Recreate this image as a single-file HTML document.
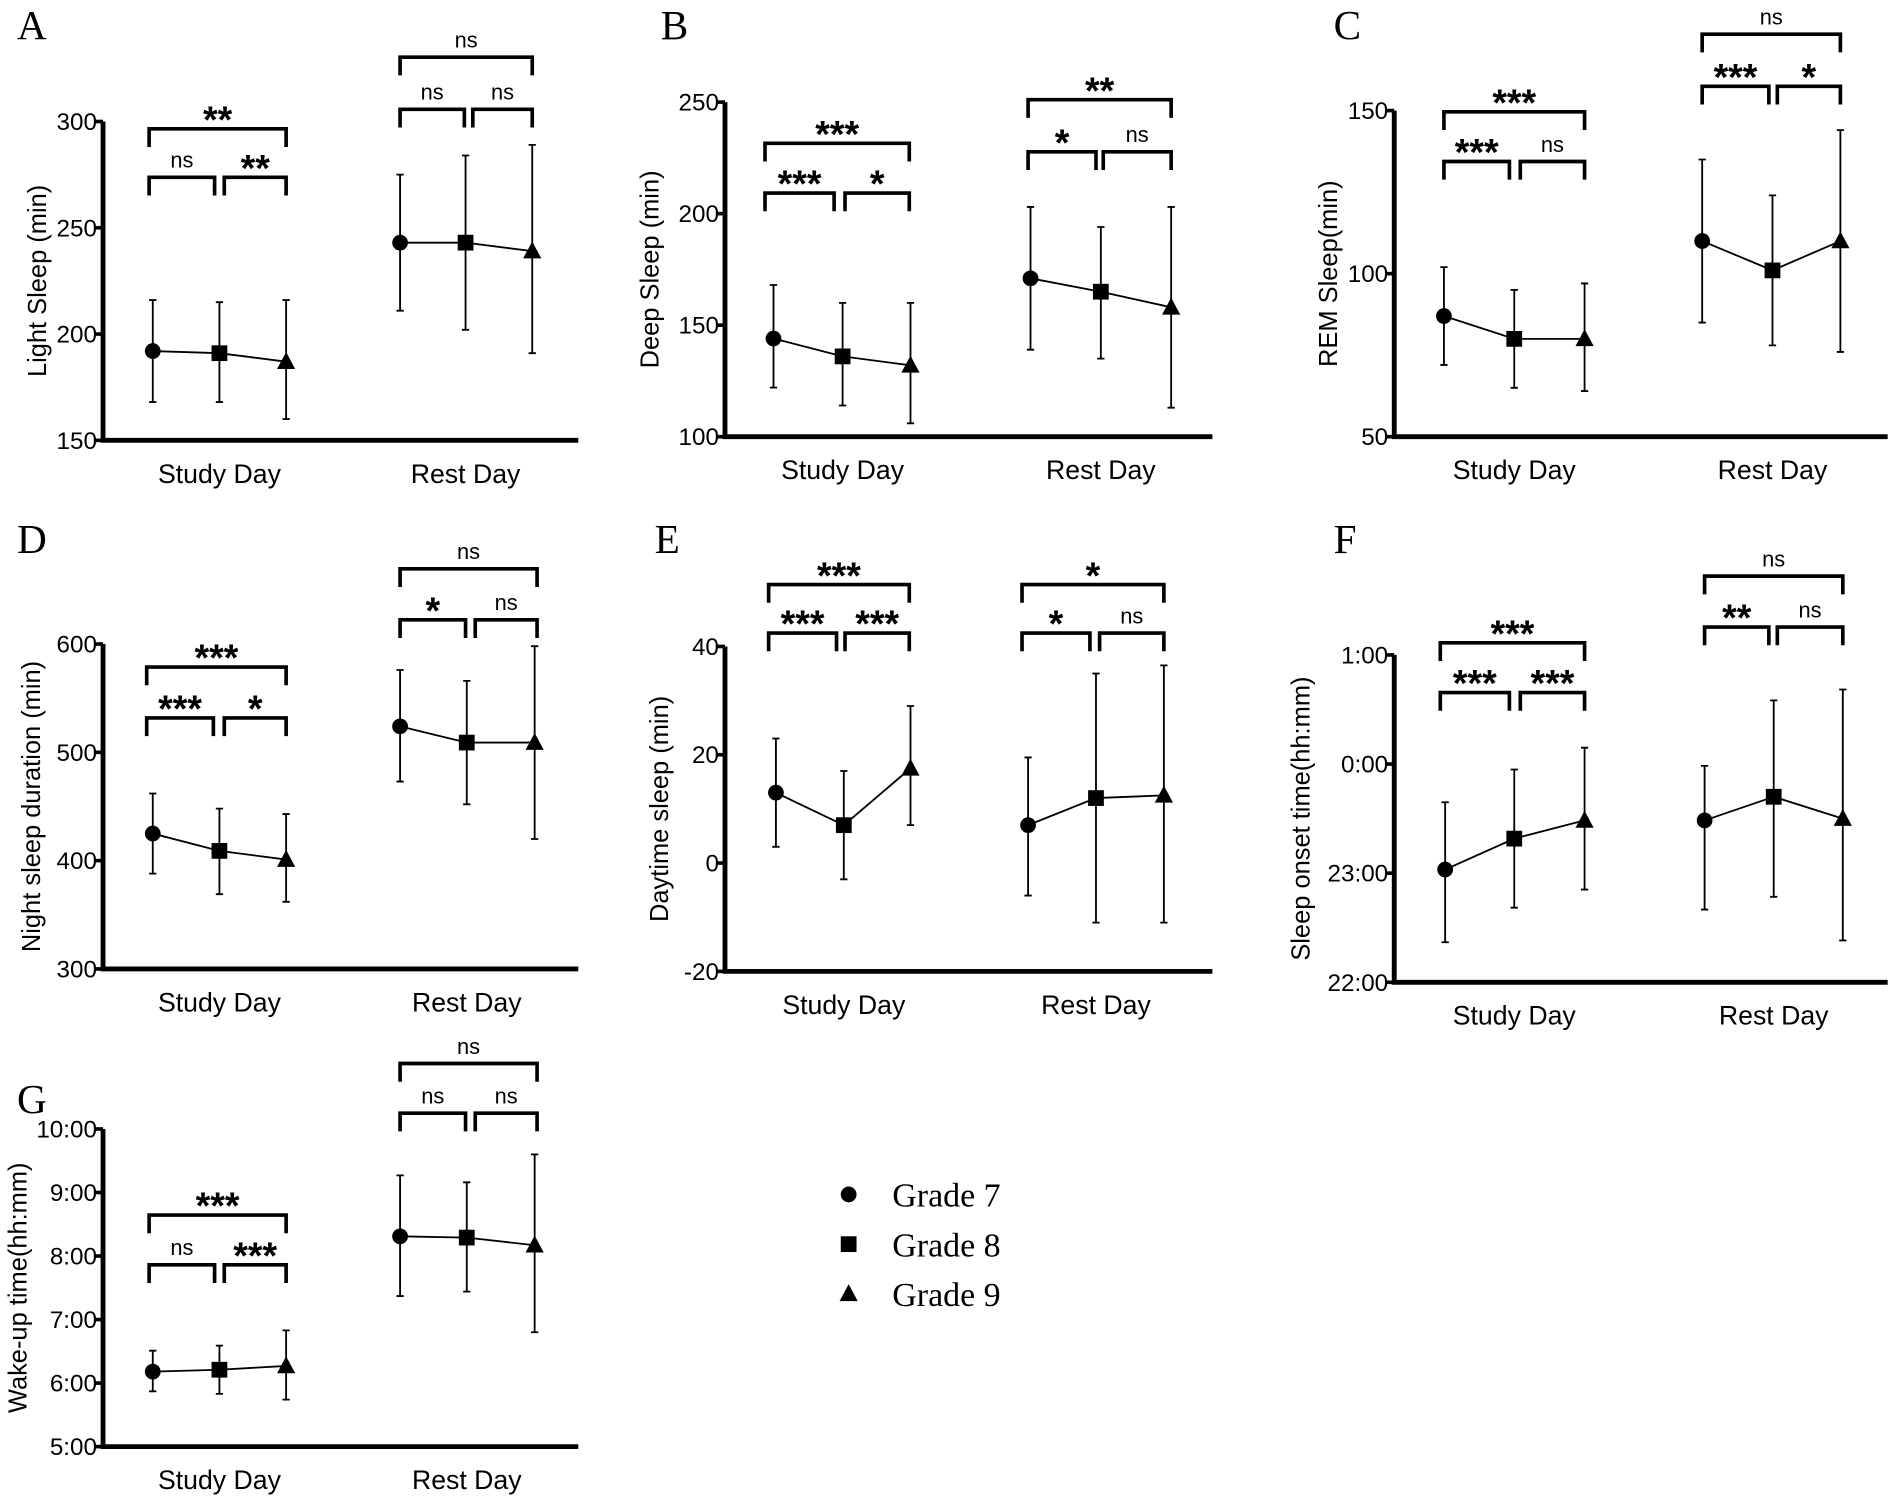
<!DOCTYPE html>
<html><head><meta charset="utf-8"><style>
html,body{margin:0;padding:0;background:#fff}
svg{display:block}
text{font-family:"Liberation Sans",sans-serif;fill:#000}
.lt{font-family:"Liberation Serif",serif;font-size:34px}
.tk{font-size:20px}
.xl{font-size:22px}
.yl{font-size:21px}
.st{font-size:31px;font-weight:bold}
.ns{font-size:18px}
.lg{font-family:"Liberation Serif",serif;font-size:28px}
</style></head><body>
<svg id="fig" width="1901" height="1499" viewBox="0 0 1568 1236" xmlns="http://www.w3.org/2000/svg"></svg>
<script>
// ---- data (mean, low, high) per grade; study day then rest day ----
const groups = ["Study Day","Rest Day"];
const grades = ["Grade 7","Grade 8","Grade 9"];
const lightMean=[192,191,187,243,243,239], lightLo=[168,168,160,211,202,191], lightHi=[216,215,216,275,284,289];
const deepMean=[144,136,132,171,165,158], deepLo=[122,114,106,139,135,113], deepHi=[168,160,160,203,194,203];
const remMean=[87,80,80,110,101,110], remLo=[72,65,64,85,78,76], remHi=[102,95,97,135,124,144];
const nightMean=[425,409,401,524,509,509], nightLo=[388,369,362,473,452,420], nightHi=[462,448,443,576,566,598];
const dayMean=[13,7,17.5,7,12,12.5], dayLo=[3,-3,7,-6,-11,-11], dayHi=[23,17,29,19.5,35,36.5];
// onset: minutes after 22:00
const onsetMean=[62,79,89,89,102,90], onsetLo=[22,41,51,40,47,23], onsetHi=[99,117,129,119,155,161];
// wake: hours
const wakeMean=[6.18,6.21,6.27,8.31,8.29,8.17], wakeLo=[5.87,5.83,5.74,7.37,7.44,6.80], wakeHi=[6.51,6.59,6.83,9.27,9.16,9.60];
const lightTicks=[150,200,250,300], deepTicks=[100,150,200,250], remTicks=[50,100,150];
const nightTicks=[300,400,500,600], dayTicks=[-20,0,20,40];
const onsetTicks=[0,60,120,180], onsetTickLabels=["22:00","23:00","0:00","1:00"];
const wakeTicks=[5,6,7,8,9,10], wakeTickLabels=["5:00","6:00","7:00","8:00","9:00","10:00"];
// significance labels: [studyTop, studyLeft, studyRight, restTop, restLeft, restRight]
const sigA=["**","ns","**","ns","ns","ns"], sigB=["***","***","*","**","*","ns"], sigC=["***","***","ns","ns","***","*"];
const sigD=["***","***","*","ns","*","ns"], sigE=["***","***","***","*","*","ns"], sigF=["***","***","***","ns","**","ns"];
const sigG=["***","ns","***","ns","ns","ns"];

const NS="http://www.w3.org/2000/svg";
const svg=document.getElementById('fig');
function el(tag,attrs,parent,txt){const e=document.createElementNS(NS,tag);for(const k in attrs)e.setAttribute(k,attrs[k]);if(txt!==undefined)e.textContent=txt;(parent||svg).appendChild(e);return e;}

function marker(g,shape,x,y){
  let m;
  if(shape===0){m=el('circle',{cx:x,cy:y,r:6.5},g);}
  else if(shape===1){m=el('rect',{x:x-6.5,y:y-6.5,width:13,height:13},g);}
  else {m=el('polygon',{points:`${x},${y-8} ${x+7.5},${y+6} ${x-7.5},${y+6}`},g);}
  
  
}

function bracket(g,x1,x2,y,label,name){
  const b=el('path',{d:`M${x1},${y+15}V${y}H${x2}V${y+15}`,fill:'none',stroke:'#000','stroke-width':3},g);
  
  
  const isStar=label.indexOf('*')>=0;
  const t=el('text',{x:(x1+x2)/2,y:isStar?y+3:y-8,'text-anchor':'middle','class':isStar?'st':'ns'},g,label);
  
  
}

function panel(p){
  const g=el('g',{});
  
  
  const lt=el('text',{x:p.lx,y:p.ly,'class':'lt'},g,p.letter);
  
  
  const ymin=p.ticks[0], ymax=p.ticks[p.ticks.length-1];
  const Y=v=>p.yb+(v-ymin)/(ymax-ymin)*(p.yt-p.yb);
  const ax=el('path',{d:`M${p.ax},${p.yt}V${p.yb}H${p.xe}`,fill:'none',stroke:'#000','stroke-width':4},g);
  
  
  p.ticks.forEach((t,i)=>{
    const tk=el('line',{x1:p.ax-7,x2:p.ax,y1:Y(t),y2:Y(t),stroke:'#000','stroke-width':3},g);
    
    
    const tl=el('text',{x:p.ax-5,y:Y(t)+7,'text-anchor':'end','class':'tk'},g,p.tickLabels?p.tickLabels[i]:String(t));
    
    
  });
  const yt=el('text',{transform:`translate(${p.ytx},${(p.yt+p.yb)/2}) rotate(-90)`,'text-anchor':'middle','class':'yl'},g,p.ylabel);
  
  
  groups.forEach((gr,gi)=>{
    const xs=p.xs.slice(gi*3,gi*3+3);
    const xl=el('text',{x:xs[1],y:p.yb+35,'text-anchor':'middle','class':'xl'},g,gr);
    
    
    const pts=xs.map((x,i)=>x+','+Y(p.mean[gi*3+i])).join(' ');
    const ln=el('polyline',{points:pts,fill:'none',stroke:'#000','stroke-width':1.5},g);
    
    
    xs.forEach((x,i)=>{
      const k=gi*3+i;
      const eb=el('path',{d:`M${x},${Y(p.lo[k])}V${Y(p.hi[k])}M${x-3},${Y(p.lo[k])}H${x+3}M${x-3},${Y(p.hi[k])}H${x+3}`,stroke:'#000','stroke-width':1.5,fill:'none'},g);
      
      
      marker(g,i,x,Y(p.mean[k]));
    });
    const b=p.br[gi], s=p.sig.slice(gi*3,gi*3+3);
    bracket(g,b[0],b[3],b[4],s[0],'sig-top');
    bracket(g,b[0],b[1],b[5],s[1],'sig-left');
    bracket(g,b[2],b[3],b[5],s[2],'sig-right');
  });
}

panel({letter:'A',lx:14,ly:32,ax:85,yt:100,yb:363,xe:477,ticks:lightTicks,ytx:38,ylabel:'Light Sleep (min)',
  xs:[126,181,236,330,384,439],mean:lightMean,lo:lightLo,hi:lightHi,sig:sigA,
  br:[[123,177,185,236,106,146],[330,383,390,439,47,90]]});
panel({letter:'B',lx:545,ly:32,ax:598,yt:84,yb:360,xe:1000,ticks:deepTicks,ytx:543,ylabel:'Deep Sleep (min)',
  xs:[638,695,751,850,908,966],mean:deepMean,lo:deepLo,hi:deepHi,sig:sigB,
  br:[[631,688,697,750,118,159],[848,904,910,966,82,125]]});
panel({letter:'C',lx:1100,ly:32,ax:1150,yt:91,yb:360,xe:1557,ticks:remTicks,ytx:1103,ylabel:'REM Sleep(min)',
  xs:[1191,1249,1307,1404,1462,1518],mean:remMean,lo:remLo,hi:remHi,sig:sigC,
  br:[[1191,1245,1254,1307,92,133],[1404,1459,1466,1518,28,71]]});
panel({letter:'D',lx:14,ly:456,ax:85,yt:531,yb:799,xe:477,ticks:nightTicks,ytx:33,ylabel:'Night sleep duration (min)',
  xs:[126,181,236,330,385,441],mean:nightMean,lo:nightLo,hi:nightHi,sig:sigD,
  br:[[121,176,185,236,550,592],[330,384,392,443,469,511]]});
panel({letter:'E',lx:540,ly:456,ax:598,yt:533,yb:801,xe:1000,ticks:dayTicks,ytx:551,ylabel:'Daytime sleep (min)',
  xs:[640,696,751,848,904,960],mean:dayMean,lo:dayLo,hi:dayHi,sig:sigE,
  br:[[634,690,697,750,482,522],[843,899,907,960,482,522]]});
panel({letter:'F',lx:1100,ly:456,ax:1150,yt:540,yb:810,xe:1557,ticks:onsetTicks,tickLabels:onsetTickLabels,ytx:1080,ylabel:'Sleep onset time(hh:mm)',
  xs:[1192,1249,1307,1406,1463,1520],mean:onsetMean,lo:onsetLo,hi:onsetHi,sig:sigF,
  br:[[1188,1245,1254,1307,530,571],[1406,1459,1466,1520,475,517]]});
panel({letter:'G',lx:14,ly:918,ax:85,yt:931,yb:1193,xe:477,ticks:wakeTicks,tickLabels:wakeTickLabels,ytx:22,ylabel:'Wake-up time(hh:mm)',
  xs:[126,181,236,330,385,441],mean:wakeMean,lo:wakeLo,hi:wakeHi,sig:sigG,
  br:[[123,177,185,236,1002,1043],[330,384,392,443,877,918]]});

// legend
const lg=el('g',{});


grades.forEach((gname,i)=>{
  const y=985+i*41;
  marker(lg,i,700,y);
  const t=el('text',{x:736,y:y+10,'class':'lg'},lg,gname);
  
  
});
</script>
</body></html>
